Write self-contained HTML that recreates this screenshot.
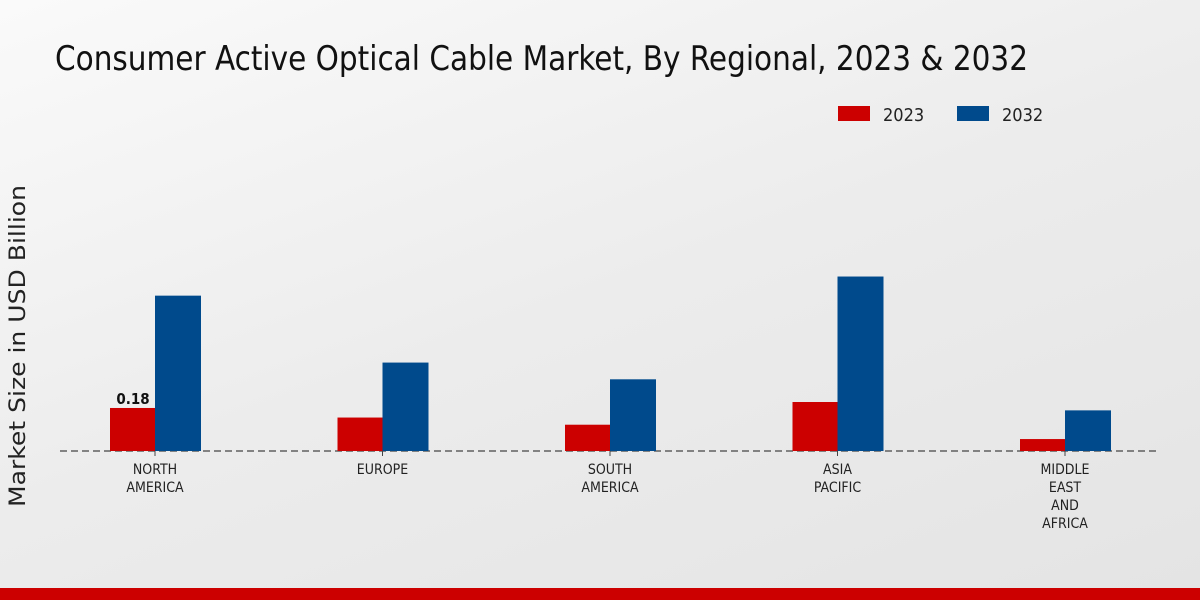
<!DOCTYPE html>
<html><head><meta charset="utf-8"><style>
body{margin:0;width:1200px;height:600px;overflow:hidden;background:linear-gradient(160deg,#fafafa 0%,#ececec 50%,#e4e4e4 100%);font-family:"DejaVu Sans Condensed","Liberation Sans",sans-serif}
svg{position:absolute;left:0;top:0}
</style></head><body>
<svg id="chart" width="1200" height="600" font-family="DejaVu Sans Condensed, Liberation Sans, sans-serif">
<text x="55" y="70" font-size="34" textLength="973" lengthAdjust="spacingAndGlyphs" fill="#111">Consumer Active Optical Cable Market, By Regional, 2023 &amp; 2032</text>
<g>
<rect x="838" y="106" width="32" height="15" fill="#cc0000"/>
<text x="883" y="121" font-size="18" fill="#222">2023</text>
<rect x="957" y="106" width="32" height="15" fill="#004a8c"/>
<text x="1002" y="121" font-size="18" fill="#222">2032</text>
</g>
<text transform="translate(25,346) rotate(-90)" text-anchor="middle" font-size="22" font-family="DejaVu Sans, sans-serif" textLength="322" lengthAdjust="spacingAndGlyphs" fill="#222">Market Size in USD Billion</text>
<line x1="60" y1="451" x2="1160" y2="451" stroke="#444" stroke-width="1.2" stroke-dasharray="7,4"/>
<g id="bars"></g>
<rect x="0" y="588" width="1200" height="12" fill="#cc0000"/>
</svg>
<script>
const categories=[["NORTH","AMERICA"],["EUROPE"],["SOUTH","AMERICA"],["ASIA","PACIFIC"],["MIDDLE","EAST","AND","AFRICA"]];
const values2023=[0.18,0.14,0.11,0.205,0.05];
const values2032=[0.65,0.37,0.30,0.73,0.17];
const ns="http://www.w3.org/2000/svg";
const g=document.getElementById('bars');
const base=451, scale=239;
function xc(i){return 155+i*227.5;}
function y(v){return base-v*scale;}
function mk(t,a){const e=document.createElementNS(ns,t);for(const k in a)e.setAttribute(k,a[k]);g.appendChild(e);return e;}
categories.forEach((c,i)=>{
 const r=mk('rect',{x:xc(i)-45,y:y(values2023[i]),width:45,height:base-y(values2023[i]),fill:'#cc0000'});
 
 
 const b=mk('rect',{x:xc(i),y:y(values2032[i]),width:46,height:base-y(values2032[i]),fill:'#004a8c'});
 
 
 const tk=mk('line',{x1:xc(i),x2:xc(i),y1:451,y2:456,stroke:'#444'});
 
 
 c.forEach((l,j)=>{
  const t=mk('text',{x:xc(i),y:474+j*18,'text-anchor':'middle','font-size':'14',fill:'#222'});
  t.textContent=l;
  
  
 });
});
const lb=mk('text',{x:xc(0)-22,y:y(values2023[0])-4,'text-anchor':'middle','font-size':'15','font-weight':'bold',fill:'#111'});
lb.textContent=values2023[0].toFixed(2);


</script>
</body></html>
